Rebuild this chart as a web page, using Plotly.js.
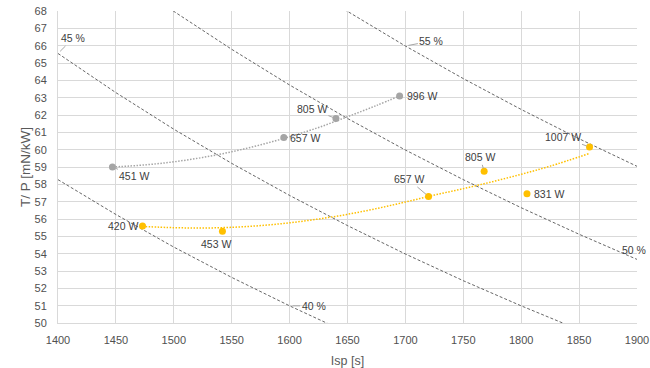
<!DOCTYPE html>
<html>
<head>
<meta charset="utf-8">
<script src="https://cdn.plot.ly/plotly-3.0.1.min.js"></script>
<style>
html,body{margin:0;padding:0;background:#fff;}
#chart{width:650px;height:368px;}
</style>
</head>
<body>
<div id="chart"></div>
<script>
// Efficiency iso-lines
const eta40Isp = [1400, 1450, 1500, 1550, 1600, 1650];
const eta40TP  = [58.27, 56.26, 54.38, 52.63, 50.99, 49.44];
const eta45Isp = [1400, 1450, 1500, 1550, 1600, 1650, 1700, 1750, 1800, 1850];
const eta45TP  = [65.55, 63.29, 61.18, 59.21, 57.36, 55.62, 53.98, 52.44, 50.99, 49.61];
const eta50Isp = [1450, 1500, 1550, 1600, 1650, 1700, 1750, 1800, 1850, 1900];
const eta50TP  = [70.33, 67.98, 65.79, 63.73, 61.80, 59.98, 58.27, 56.65, 55.12, 53.67];
const eta55Isp = [1600, 1650, 1700, 1750, 1800, 1850, 1900];
const eta55TP  = [70.11, 67.98, 65.98, 64.10, 62.32, 60.63, 59.04];

// Gray series
const grayIsp    = [1447, 1595, 1640, 1695];
const grayTP     = [59.0, 60.7, 61.8, 63.1];
const grayLabels = ['451 W', '657 W', '805 W', '996 W'];
const grayTrendIsp = [1447, 1475, 1500, 1525, 1550, 1575, 1600, 1625, 1650, 1675, 1695];
const grayTrendTP  = [59.0, 59.12, 59.3, 59.55, 59.88, 60.28, 60.75, 61.28, 61.9, 62.55, 63.1];

// Yellow series
const yelIsp    = [1473, 1542, 1720, 1768, 1805, 1859];
const yelTP     = [55.6, 55.3, 57.3, 58.75, 57.45, 60.15];
const yelLabels = ['420 W', '453 W', '657 W', '805 W', '831 W', '1007 W'];
const yelTrendIsp = [1473, 1500, 1525, 1550, 1575, 1600, 1625, 1650, 1675, 1700, 1725, 1750, 1775, 1800, 1825, 1859];
const yelTrendTP  = [55.57, 55.5, 55.48, 55.52, 55.62, 55.78, 56.0, 56.27, 56.6, 56.98, 57.38, 57.75, 58.15, 58.58, 59.05, 59.78];

// Efficiency labels
const etaLabels = ['40 %', '45 %', '50 %', '55 %'];

const FONT = '"Liberation Sans", Arial, sans-serif';
const dashLine = {color: '#404040', width: 0.8, dash: '3px,2px'};

const traces = [
  {x: eta40Isp, y: eta40TP, mode: 'lines', line: dashLine, hoverinfo: 'skip'},
  {x: eta45Isp, y: eta45TP, mode: 'lines', line: dashLine, hoverinfo: 'skip'},
  {x: eta50Isp, y: eta50TP, mode: 'lines', line: dashLine, hoverinfo: 'skip'},
  {x: eta55Isp, y: eta55TP, mode: 'lines', line: dashLine, hoverinfo: 'skip'},
  {x: grayTrendIsp, y: grayTrendTP, mode: 'lines', line: {color: '#a5a5a5', width: 1.5, dash: '1.5px,1.5px', shape: 'spline'}},
  {x: yelTrendIsp, y: yelTrendTP, mode: 'lines', line: {color: '#ffc000', width: 1.5, dash: '1.5px,1.5px', shape: 'spline'}},
  {x: grayIsp, y: grayTP, mode: 'markers', marker: {color: '#a5a5a5', size: 7}},
  {x: yelIsp, y: yelTP, mode: 'markers', marker: {color: '#ffc000', size: 7}}
];

const lblFont = {family: FONT, size: 10.5, color: '#404040'};
function ann(x, y, text, ax, ay, arrow, extra) {
  return Object.assign({
    x: x, y: y, text: text, xref: 'x', yref: 'y',
    showarrow: arrow, ax: ax, ay: ay, arrowhead: 0, arrowwidth: 1, arrowcolor: '#a6a6a6',
    standoff: 3, font: lblFont,
    xshift: arrow ? 0 : ax, yshift: arrow ? 0 : -ay
  }, extra || {});
}

const annotations = [
  ann(grayIsp[0], grayTP[0], grayLabels[0], 22, 9, true),
  ann(grayIsp[1], grayTP[1], grayLabels[1], 21, 0.5, false),
  ann(grayIsp[2], grayTP[2], grayLabels[2], -24, -9, true),
  ann(grayIsp[3], grayTP[3], grayLabels[3], 22.5, 0, false),
  ann(yelIsp[0], yelTP[0], yelLabels[0], -20, 0, true),
  ann(yelIsp[1], yelTP[1], yelLabels[1], -6.5, 13, false),
  ann(yelIsp[2], yelTP[2], yelLabels[2], -20, -17, true),
  ann(yelIsp[3], yelTP[3], yelLabels[3], -4, -14, true),
  ann(yelIsp[4], yelTP[4], yelLabels[4], 22, 0, false),
  ann(yelIsp[5], yelTP[5], yelLabels[5], -27, -10, true),
  ann(eta40Isp[4], eta40TP[4], etaLabels[0], 24, 0, true),
  ann(eta45Isp[0], eta45TP[0], etaLabels[1], 15, -15, true),
  ann(eta55Isp[2], eta55TP[2], etaLabels[3], 26, -5, true),
  {x: eta50Isp[9], y: eta50TP[9], text: etaLabels[2], xref: 'x', yref: 'y', showarrow: false,
   xanchor: 'right', xshift: 11, yshift: 9, font: lblFont}
];

const axisFont = {family: FONT, size: 11, color: '#505050'};
const layout = {
  width: 650, height: 368,
  margin: {l: 58, r: 13, t: 11, b: 45},
  paper_bgcolor: '#ffffff', plot_bgcolor: '#ffffff',
  showlegend: false,
  xaxis: {
    range: [1400, 1900], dtick: 50, tick0: 1400,
    gridcolor: '#d9d9d9', gridwidth: 1,
    showline: true, linecolor: '#d9d9d9', linewidth: 1,
    zeroline: false, ticks: 'outside', ticklen: 7, tickcolor: 'rgba(0,0,0,0)',
    tickfont: axisFont,
    title: {text: 'Isp [s]', font: {family: FONT, size: 12.5, color: '#595959'}, standoff: 11}
  },
  yaxis: {
    range: [50, 68], dtick: 1, tick0: 50,
    gridcolor: '#d9d9d9', gridwidth: 1,
    showline: true, linecolor: '#d9d9d9', linewidth: 1,
    zeroline: false, ticks: 'outside', ticklen: 8, tickcolor: 'rgba(0,0,0,0)',
    tickfont: axisFont,
    title: {text: 'T/ P [mN/kW]', font: {family: FONT, size: 13.5, color: '#595959'}, standoff: 0}
  },
  annotations: annotations
};

Plotly.newPlot('chart', traces, layout, {staticPlot: true, displayModeBar: false});
</script>
</body>
</html>
